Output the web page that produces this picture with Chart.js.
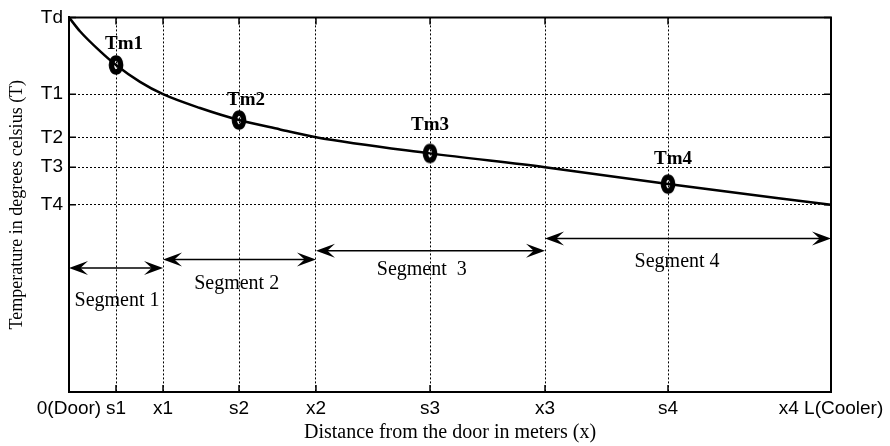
<!DOCTYPE html>
<html>
<head>
<meta charset="utf-8">
<script src="https://cdn.jsdelivr.net/npm/chart.js@4.4.0/dist/chart.umd.min.js"></script>
<style>
  body { margin: 0; background: #fff; }
  #wrap { width: 890px; height: 446px; }
</style>
</head>
<body>
<div id="wrap"><canvas id="tempChart" width="890" height="446"></canvas></div>
<script>
// distance axis (L = 10) and temperature axis (Td = 10)
const xTickVals = [0, 0.617, 1.234, 2.231, 3.241, 4.738, 6.247, 7.861, 10];
const xTickLabels = ["0(Door)", "s1", "x1", "s2", "x2", "s3", "x3", "s4", "x4 L(Cooler)"];
const yTickVals = [10, 7.95, 6.8, 6.0, 5.0];
const yTickLabels = ["Td", "T1", "T2", "T3", "T4"];

// temperature profile along the room
const curveX = [0, 0.144, 0.407, 0.617, 0.932, 1.234, 1.719, 2.231, 2.769, 3.241, 4.738, 6.247, 7.861, 10];
const curveY = [10, 9.63, 9.10, 8.73, 8.28, 7.95, 7.58, 7.26, 7.01, 6.80, 6.37, 6.00, 5.55, 5.00];

// mean temperature of each segment, taken at its midpoint
const tmNames = ["Tm1", "Tm2", "Tm3", "Tm4"];
const tmX = [0.617, 2.231, 4.738, 7.861];
const tmY = [8.73, 7.26, 6.37, 5.55];
const tmLabelX = [0.722, 2.323, 4.738, 7.927];
const tmLabelY = [9.29, 7.78, 7.12, 6.23];

// segment spans
const segNames = ["Segment 1", "Segment 2", "Segment  3", "Segment 4"];
const segStart = [0, 1.234, 3.241, 6.247];
const segEnd = [1.234, 3.241, 6.247, 10];
const segArrowY = [3.31, 3.54, 3.77, 4.10];
const segLabelX = [0.63, 2.20, 4.63, 7.98];
const segLabelY = [2.43, 2.90, 3.27, 3.48];

const sans = "'Liberation Sans', Arial, sans-serif";
const serif = "'Liberation Serif', 'Times New Roman', serif";

// thick "o" marker, taller than wide
function makeMarker() {
  const c = document.createElement("canvas");
  c.width = 20;
  c.height = 26;
  const g = c.getContext("2d");
  g.beginPath();
  g.ellipse(10, 13, 4.6, 7, 0, 0, Math.PI * 2);
  g.lineWidth = 5.5;
  g.strokeStyle = "#000";
  g.stroke();
  return c;
}

function arrowHead(ctx, tipX, ty, dir) {
  const len = 19, half = 7;
  ctx.beginPath();
  ctx.moveTo(tipX, ty);
  ctx.lineTo(tipX - dir * len, ty - half);
  ctx.lineTo(tipX - dir * len * 0.6, ty);
  ctx.lineTo(tipX - dir * len, ty + half);
  ctx.closePath();
  ctx.fill();
}

const extras = {
  id: "extras",
  afterDraw(chart) {
    const { ctx, chartArea: a, scales } = chart;
    const x = scales.x, y = scales.y;
    ctx.save();
    ctx.strokeStyle = "#000";
    ctx.fillStyle = "#000";

    // box top and right
    ctx.lineWidth = 2;
    ctx.beginPath();
    ctx.moveTo(a.left, a.top);
    ctx.lineTo(a.right, a.top);
    ctx.lineTo(a.right, a.bottom);
    ctx.stroke();

    // inward tick marks
    ctx.lineWidth = 1.5;
    const tl = 7;
    ctx.beginPath();
    xTickVals.forEach(v => {
      const px = x.getPixelForValue(v);
      ctx.moveTo(px, a.bottom); ctx.lineTo(px, a.bottom - tl);
      ctx.moveTo(px, a.top); ctx.lineTo(px, a.top + tl);
    });
    yTickVals.forEach(v => {
      const py = y.getPixelForValue(v);
      ctx.moveTo(a.left, py); ctx.lineTo(a.left + tl, py);
      ctx.moveTo(a.right, py); ctx.lineTo(a.right - tl, py);
    });
    ctx.stroke();

    // segment arrows
    ctx.lineWidth = 1.5;
    for (let i = 0; i < segNames.length; i++) {
      const x0 = x.getPixelForValue(segStart[i]);
      const x1 = x.getPixelForValue(segEnd[i]);
      const py = y.getPixelForValue(segArrowY[i]);
      ctx.beginPath();
      ctx.moveTo(x0 + 6, py);
      ctx.lineTo(x1 - 6, py);
      ctx.stroke();
      arrowHead(ctx, x0, py, -1);
      arrowHead(ctx, x1, py, 1);
    }

    ctx.textAlign = "center";
    ctx.textBaseline = "middle";
    ctx.font = "20px " + serif;
    for (let i = 0; i < segNames.length; i++) {
      ctx.fillText(segNames[i], x.getPixelForValue(segLabelX[i]), y.getPixelForValue(segLabelY[i]));
    }

    ctx.font = "bold 19px " + serif;
    for (let i = 0; i < tmNames.length; i++) {
      ctx.fillText(tmNames[i], x.getPixelForValue(tmLabelX[i]), y.getPixelForValue(tmLabelY[i]));
    }
    ctx.restore();
  }
};

const curvePts = curveX.map((v, i) => ({ x: v, y: curveY[i] }));
const tmPts = tmX.map((v, i) => ({ x: v, y: tmY[i] }));

new Chart(document.getElementById("tempChart"), {
  type: "scatter",
  data: {
    datasets: [
      {
        data: curvePts,
        showLine: true,
        borderColor: "#000",
        borderWidth: 2.5,
        pointRadius: 0,
        cubicInterpolationMode: "monotone"
      },
      {
        data: tmPts,
        pointStyle: makeMarker(),
        pointRadius: 10
      }
    ]
  },
  options: {
    responsive: false,
    animation: false,
    layout: { padding: { top: 13, right: 59, left: 0, bottom: 0 } },
    plugins: {
      legend: { display: false },
      tooltip: { enabled: false }
    },
    scales: {
      x: {
        type: "linear",
        min: 0,
        max: 10,
        afterBuildTicks: s => { s.ticks = xTickVals.map(v => ({ value: v })); },
        afterFit: s => { s.height = 54; },
        ticks: {
          autoSkip: false,
          maxRotation: 0,
          padding: 5,
          color: "#000",
          font: { family: sans, size: 19 },
          callback: (v, i) => xTickLabels[i]
        },
        grid: { color: "#000", lineWidth: 1, drawTicks: false },
        border: { display: true, color: "#000", width: 2, dash: [2, 2] },
        title: {
          display: true,
          text: "Distance from the door in meters (x)",
          color: "#000",
          font: { family: serif, size: 20 },
          padding: { top: 0, bottom: 1 }
        }
      },
      y: {
        type: "linear",
        min: 0,
        max: 10,
        afterBuildTicks: s => { s.ticks = yTickVals.map(v => ({ value: v })); },
        afterFit: s => { s.width = 69; },
        ticks: {
          autoSkip: false,
          padding: 6,
          color: "#000",
          font: { family: sans, size: 19 },
          callback: (v, i) => yTickLabels[i]
        },
        grid: { color: "#000", lineWidth: 1, drawTicks: false },
        border: { display: true, color: "#000", width: 2, dash: [2, 2] },
        title: {
          display: true,
          text: "Temperature in degrees celsius (T)",
          color: "#000",
          font: { family: serif, size: 18 },
          padding: { top: 6, bottom: 0 }
        }
      }
    }
  },
  plugins: [extras]
});
</script>
</body>
</html>
